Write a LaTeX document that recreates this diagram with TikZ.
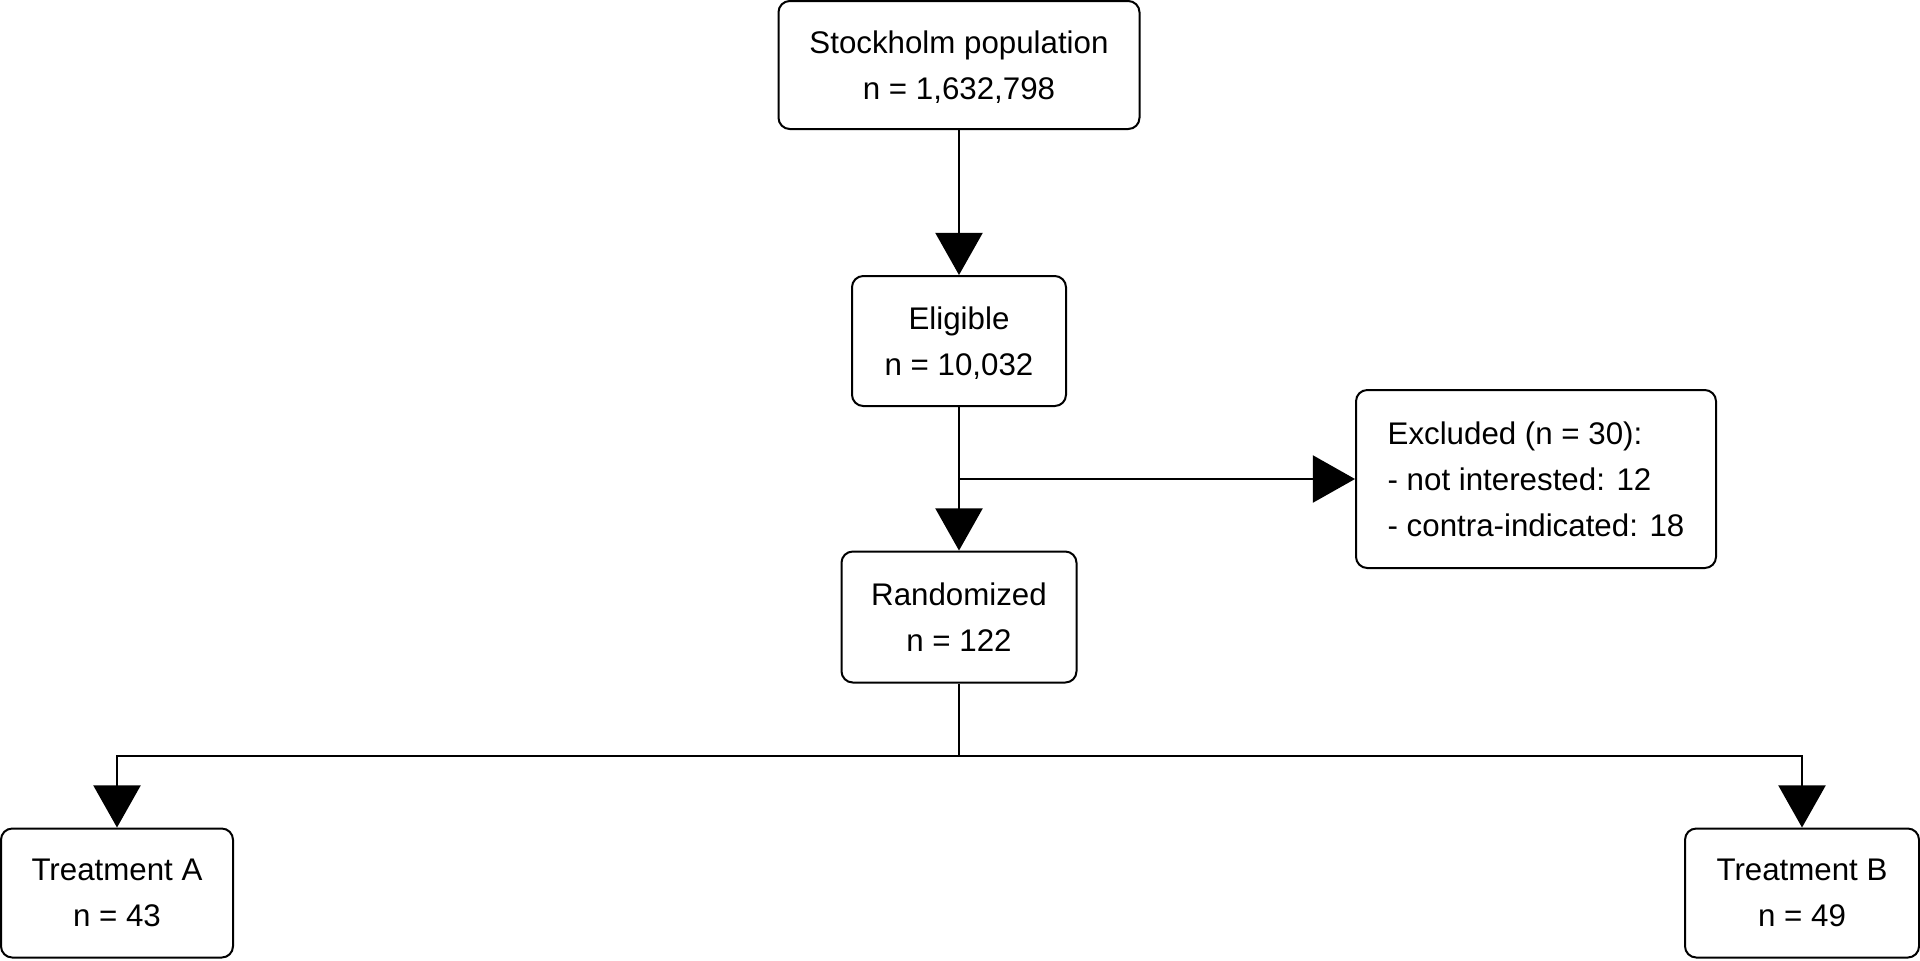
\documentclass[tikz,border=0pt]{standalone}
\usepackage{fontspec}
\setmainfont{Liberation Sans}
\usetikzlibrary{positioning,arrows.meta,calc}
\begin{document}
\begin{tikzpicture}[>={Triangle[length=12pt,width=13.4pt]},node distance=2.76cm,line width=0.57pt,
box/.style={draw,rounded corners=3.2pt,align=center,inner sep=0pt,text depth=-1.2pt,font=\fontsize{8.9}{13.1}\selectfont}]
\useasboundingbox (0,0) rectangle (19.2,-9.6);
\node[box,minimum width=3.61cm,minimum height=1.28cm] (pop) at (9.59,-0.65) {Stockholm population\\n = 1,632,798};
\node[box,below of=pop,minimum width=2.14cm,minimum height=1.3cm] (elig) {Eligible\\n = 10,032};
\node[box,below of=elig,minimum width=2.35cm,minimum height=1.31cm] (rand) {Randomized\\n = 122};
\coordinate (split) at ($(elig)!0.5!(rand)$);
\node[box,align=left,minimum width=3.6cm,minimum height=1.78cm] (excl) at ([xshift=5.77cm]split) {Excluded (n = 30):\\- not interested: 12\\- contra-indicated: 18};
\node[box,below of=rand,xshift=-8.42cm,minimum width=2.32cm,minimum height=1.29cm] (trA) {Treatment A\\n = 43};
\node[box,below of=rand,xshift=8.43cm,minimum width=2.34cm,minimum height=1.29cm] (trB) {Treatment B\\n = 49};
\coordinate (fork) at ($(rand.south)!0.5!(rand.south |- trA.north)$);
\draw[->] (pop) -- (elig);
\draw[->] (elig) -- (rand);
\draw[->] (split) -- (excl);
\draw (rand) -- (fork);
\draw[->] (fork) -| (trA);
\draw[->] (fork) -| (trB);
\end{tikzpicture}
\end{document}
